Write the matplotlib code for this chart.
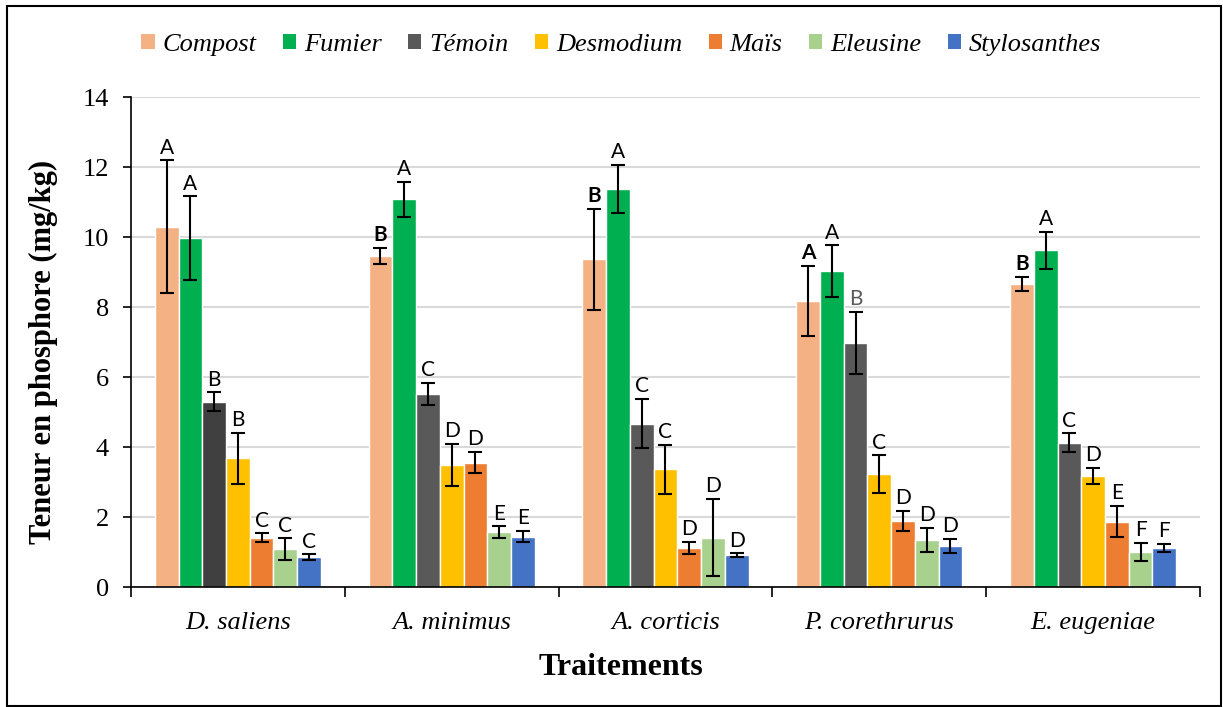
import numpy as np
import matplotlib
matplotlib.use("Agg")
import matplotlib.pyplot as plt
from matplotlib.patches import Rectangle, Patch

# phosphorus content (mg/kg) per treatment, one list per amendment
groups = ["D. saliens", "A. minimus", "A. corticis", "P. corethrurus", "E. eugeniae"]
series = ["Compost", "Fumier", "Témoin", "Desmodium", "Maïs", "Eleusine", "Stylosanthes"]

compost = [10.29, 9.46, 9.36, 8.18, 8.67]
fumier = [9.96, 11.08, 11.38, 9.03, 9.62]
temoin = [5.29, 5.51, 4.67, 6.97, 4.12]
desmodium = [3.68, 3.49, 3.37, 3.22, 3.17]
mais = [1.41, 3.55, 1.11, 1.89, 1.87]
eleusine = [1.08, 1.56, 1.41, 1.34, 1.01]
stylo = [0.85, 1.44, 0.91, 1.18, 1.12]

compost_err = [1.90, 0.24, 1.45, 1.00, 0.20]
fumier_err = [1.20, 0.50, 0.68, 0.73, 0.52]
temoin_err = [0.27, 0.32, 0.71, 0.89, 0.27]
desmodium_err = [0.73, 0.60, 0.70, 0.54, 0.23]
mais_err = [0.12, 0.30, 0.17, 0.29, 0.45]
eleusine_err = [0.31, 0.17, 1.10, 0.34, 0.26]
stylo_err = [0.08, 0.16, 0.05, 0.20, 0.12]

# significance letters
compost_lbl = ["A", "B", "B", "A", "B"]
fumier_lbl = ["A", "A", "A", "A", "A"]
temoin_lbl = ["B", "C", "C", "B", "C"]
desmodium_lbl = ["B", "D", "C", "C", "D"]
mais_lbl = ["C", "D", "D", "D", "E"]
eleusine_lbl = ["C", "E", "D", "D", "F"]
stylo_lbl = ["C", "E", "D", "D", "F"]

values = [compost, fumier, temoin, desmodium, mais, eleusine, stylo]
errors = [compost_err, fumier_err, temoin_err, desmodium_err, mais_err, eleusine_err, stylo_err]
letters = [compost_lbl, fumier_lbl, temoin_lbl, desmodium_lbl, mais_lbl, eleusine_lbl, stylo_lbl]
colors = ["#F4B183", "#00B050", "#595959", "#FFC000", "#ED7D31", "#A9D18E", "#4472C4"]

serif = "Liberation Serif"
sans = "Lato"

fig = plt.figure(figsize=(12.23, 7.07), dpi=100)
ax = fig.add_axes([0.1071, 0.1697, 0.8741, 0.6931])

x = np.arange(len(groups))
step = 0.111
for i, name in enumerate(series):
    pos = x + (i - 3) * step
    col = [colors[i]] * len(groups)
    if name == "Témoin":
        col[0] = "#404040"
    ax.bar(pos, values[i], width=step, color=col, edgecolor="white",
           linewidth=1.0, zorder=2)
    ax.errorbar(pos, values[i], yerr=errors[i], fmt="none", ecolor="black",
                elinewidth=1.5, capsize=5, capthick=1.5, zorder=3)
    for j in range(len(groups)):
        weight = "bold" if (name == "Compost" and j > 0) else "normal"
        tcol = "#595959" if (name == "Témoin" and j == 3) else "black"
        ax.annotate(letters[i][j], (pos[j], values[i][j] + errors[i][j]),
                    xytext=(0, 2), textcoords="offset points",
                    ha="center", va="bottom", fontsize=15,
                    family=sans, fontweight=weight, color=tcol)

ax.set_ylim(0, 14)
ax.set_xlim(-0.5, 4.5)
ax.set_yticks(range(0, 15, 2))
ax.yaxis.grid(True, color="#D9D9D9", linewidth=1.5, zorder=0)
ax.set_axisbelow(True)
for s in ["top", "right"]:
    ax.spines[s].set_visible(False)
ax.spines["left"].set_linewidth(1.2)
ax.spines["bottom"].set_linewidth(1.2)

# group separators as ticks, names as minor labels
ax.set_xticks(np.arange(-0.5, 5, 1))
ax.set_xticklabels([])
ax.tick_params(axis="x", which="major", length=7, width=1.2, direction="out")
ax.set_xticks(x, minor=True)
ax.set_xticklabels(groups, minor=True, fontsize=19, family=serif, style="italic")
ax.tick_params(axis="x", which="minor", length=0, pad=18)
ax.tick_params(axis="y", length=6, width=1.2, labelsize=19, pad=10)
for t in ax.get_yticklabels():
    t.set_family(serif)

ax.set_ylabel("Teneur en phosphore (mg/kg)", family=serif, fontweight="bold",
              fontsize=22)
ax.yaxis.set_label_coords(-0.068, 0.48)
ax.set_xlabel("Traitements", family=serif, fontweight="bold", fontsize=23)
ax.xaxis.set_label_coords(0.458, -0.135)

handles = [Patch(facecolor=c, edgecolor="none") for c in colors]
fig.legend(handles, series, loc="center", bbox_to_anchor=(0.508, 0.937), ncol=7,
           frameon=False, prop={"family": serif, "style": "italic", "size": 19},
           handlelength=0.5, handleheight=0.5, handletextpad=0.3, columnspacing=1.0)

# outer frame
fig.patches.append(Rectangle((7 / 1223, 1 / 707), 1214 / 1223, 700 / 707,
                             transform=fig.transFigure, fill=False,
                             edgecolor="black", linewidth=1.5))

fig.savefig("out.png", dpi=100)
